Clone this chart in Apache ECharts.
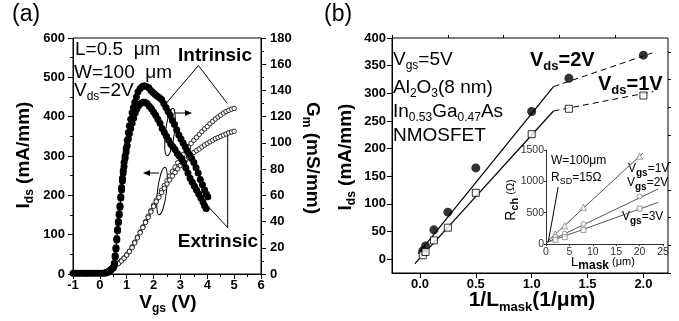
<!DOCTYPE html>
<html>
<head>
<meta charset="utf-8">
<script src="https://cdn.jsdelivr.net/npm/echarts@6/dist/echarts.min.js"></script>
<style>
html, body { margin: 0; padding: 0; background: #fff; }
#chart { width: 679px; height: 321px; }
</style>
</head>
<body>
<div id="chart"></div>
<script>
// ---- panel (a): Ids and Gm vs Vgs ----
const vgs = [-1.0, -0.9, -0.8, -0.7, -0.6, -0.5, -0.4, -0.3, -0.2, -0.1,
    0.0, 0.1, 0.2, 0.3, 0.4, 0.5, 0.6, 0.7, 0.8, 0.9,
    1.0, 1.1, 1.2, 1.3, 1.4, 1.5, 1.6, 1.7, 1.8, 1.9,
    2.0, 2.1, 2.2, 2.3, 2.4, 2.5, 2.6, 2.7, 2.8, 2.9,
    3.0, 3.1, 3.2, 3.3, 3.4, 3.5, 3.6, 3.7, 3.8, 3.9,
    4.0, 4.1, 4.2, 4.3, 4.4, 4.5, 4.6, 4.7, 4.8, 4.9, 5.0];

const idsIntrinsic = [2, 2, 2, 2, 2, 2, 2, 2, 2, 2,
    3, 3, 5, 8, 13, 18, 23, 28, 34, 41,
    49, 58, 69, 81, 94, 107, 120, 133, 147, 161,
    175, 188, 200, 213, 225, 237, 249, 261, 272, 283,
    294, 304, 314, 323, 332, 340, 347, 355, 362, 369,
    375, 382, 388, 394, 399, 404, 409, 413, 416, 419, 421];

const idsExtrinsic = [2, 2, 2, 2, 2, 2, 2, 2, 2, 2,
    3, 3, 5, 8, 12, 17, 22, 27, 33, 40,
    48, 57, 67, 79, 92, 105, 118, 131, 144, 158,
    172, 184, 195, 207, 218, 229, 239, 249, 258, 267,
    276, 283, 290, 297, 303, 309, 314, 318, 323, 328,
    332, 336, 340, 344, 347, 350, 353, 356, 359, 361, 363];

// [Vgs, Gm]
const gmIntrinsic = [[-1, 0.5], [-0.9, 0.5], [-0.8, 0.5], [-0.7, 0.5], [-0.6, 0.5], [-0.5, 0.5],
    [-0.4, 0.5], [-0.3, 0.5], [-0.2, 0.5], [-0.1, 0.5], [0, 0.5], [0.1, 0.5], [0.2, 0.8],
    [0.25, 1], [0.3, 1.5], [0.35, 2], [0.4, 3], [0.45, 4], [0.5, 5], [0.54, 8], [0.57, 14],
    [0.6, 20], [0.63, 27], [0.66, 34], [0.69, 40], [0.72, 46], [0.75, 52], [0.78, 59],
    [0.81, 66], [0.84, 73], [0.87, 79], [0.9, 85], [0.94, 90], [0.98, 96], [1.02, 102],
    [1.06, 108], [1.1, 113], [1.15, 118], [1.2, 123], [1.25, 127], [1.3, 131], [1.36, 135],
    [1.42, 139], [1.5, 141.5], [1.58, 143], [1.66, 143.5], [1.74, 143], [1.82, 142], [1.9, 140],
    [1.98, 138.5], [2.06, 137], [2.14, 135.5], [2.22, 134.5], [2.3, 133], [2.38, 130], [2.46, 127],
    [2.54, 124], [2.62, 121], [2.7, 117], [2.78, 114], [2.86, 110], [2.94, 106], [3.02, 103],
    [3.1, 100], [3.18, 97], [3.26, 94], [3.34, 91], [3.42, 88], [3.5, 85], [3.58, 81],
    [3.66, 77], [3.74, 72], [3.82, 68], [3.9, 64], [3.96, 61], [4.02, 59]];

const gmExtrinsic = [[0.2, 0.8], [0.3, 1.5], [0.4, 3], [0.5, 5], [0.54, 8], [0.57, 13],
    [0.6, 19], [0.63, 26], [0.66, 33], [0.69, 39], [0.72, 45], [0.75, 51], [0.78, 58],
    [0.81, 64], [0.84, 71], [0.87, 77], [0.9, 82], [0.94, 88], [0.98, 93], [1.02, 98],
    [1.06, 103], [1.1, 107], [1.15, 111], [1.2, 115], [1.26, 119], [1.32, 123], [1.38, 126],
    [1.45, 128.5], [1.52, 130], [1.6, 131], [1.68, 131], [1.76, 130], [1.84, 128], [1.92, 126],
    [2.0, 123.5], [2.08, 121], [2.16, 118], [2.24, 115], [2.32, 111], [2.4, 108], [2.48, 105],
    [2.56, 102], [2.64, 99], [2.72, 97], [2.8, 95], [2.88, 92], [2.96, 90], [3.04, 88],
    [3.12, 85], [3.2, 81], [3.28, 77], [3.36, 73], [3.44, 70], [3.52, 67], [3.6, 64],
    [3.68, 61], [3.76, 58], [3.84, 55], [3.9, 52], [3.96, 50]];

// ---- panel (b): Ids vs 1/Lmask ----
const invL = [0.025, 0.05, 0.125, 0.25, 0.5, 1.0, 1.333, 2.0];
const idsVds2 = [15, 24, 53, 85, 165, 267, 327, 369];
const idsVds1 = [7, 13, 34, 57, 120, 226, 272, 296];

const fitVds2Solid = [[-0.015, 10], [1.195, 312]];
const fitVds2Dash = [[1.195, 312], [2.08, 373]];
const fitVds1Solid = [[-0.045, -8], [1.195, 268]];
const fitVds1Dash = [[1.195, 268], [2.09, 303]];

const bTicks = [0, 0.5, 1.0, 1.5, 2.0];
const bMinorTicks = [-0.25, 0.25, 0.75, 1.25, 1.75];
const bYTicks = [0, 50, 100, 150, 200, 250, 300, 350, 400];
const bYMinorTicks = [-25, 25, 75, 125, 175, 225, 275, 325, 375];

// ---- inset: Rch vs Lmask ----
const lMask = [2, 4, 8, 20];
const rchVgs1 = [160, 290, 585, 1400];
const rchVgs2 = [110, 165, 320, 760];
const rchVgs3 = [65, 110, 225, 565];
const fitVgs1 = [[0, 20], [20.7, 1450]];
const fitVgs2 = [[0, 20], [24, 880]];
const fitVgs3 = [[0, 20], [24, 665]];
const rsdPointer = [[0.5, 40], [2.6, 910]];

const FONT = '"Liberation Sans", Arial, sans-serif';
const ctx = document.createElement("canvas").getContext("2d");

function textWidth(t, size, weight) {
    ctx.font = weight + " " + size + "px " + FONT;
    return ctx.measureText(t).width;
}

// parts: [text, size, weight, dy]
function richText(x, y, parts, rotation, anchor, color) {
    const widths = parts.map(p => textWidth(p[0], p[1], p[2]));
    const total = widths.reduce((a, b) => a + b, 0);
    let off = anchor === "center" ? -total / 2 : 0;
    const children = parts.map((p, i) => {
        const el = {
            type: "text",
            x: off,
            y: p[3] || 0,
            style: {
                text: p[0],
                fontSize: p[1],
                fontWeight: p[2],
                fontFamily: FONT,
                fill: color || "#000",
                textAlign: "left",
                textVerticalAlign: "middle",
                align: "left",
                verticalAlign: "middle"
            }
        };
        off += widths[i];
        return el;
    });
    return { type: "group", x: x, y: y, rotation: rotation || 0, silent: true, children: children };
}

function line(x1, y1, x2, y2) {
    return { type: "line", silent: true, shape: { x1, y1, x2, y2 }, style: { stroke: "#000", lineWidth: 1 } };
}

const chart = echarts.init(document.getElementById("chart"), null, { renderer: "canvas" });

const tickLabel = { color: "#000", fontFamily: FONT, fontWeight: "bold", fontSize: 13 };
const blackLine = { show: true, onZero: false, lineStyle: { color: "#000", width: 1 } };
const insetLabel = { color: "#333", fontFamily: FONT, fontSize: 10.5, formatter: v => String(v) };

const graphic = [
    richText(12, 15, [["(a)", 23, "normal", 0]], 0, "left"),
    richText(324, 15, [["(b)", 23, "normal", 0]], 0, "left"),

    // panel (a) annotations
    richText(75, 50, [["L=0.5  \u03bcm", 19, "normal", 0]], 0, "left"),
    richText(74, 73, [["W=100  \u03bcm", 19, "normal", 0]], 0, "left"),
    richText(74, 91, [["V", 19, "normal", 0], ["ds", 12, "normal", 6], ["=2V", 19, "normal", 0]], 0, "left"),
    richText(215, 56, [["Intrinsic", 19, "bold", 0]], 0, "center"),
    richText(218, 242, [["Extrinsic", 19, "bold", 0]], 0, "center"),
    { type: "ellipse", x: 170, y: 132, rotation: -0.12, silent: true,
      shape: { cx: 0, cy: 0, rx: 4.5, ry: 24 }, style: { fill: "none", stroke: "#000", lineWidth: 1 } },
    line(174, 113, 187, 113),
    { type: "polygon", silent: true, shape: { points: [[192, 113], [185, 110], [185, 116]] }, style: { fill: "#000" } },
    { type: "ellipse", x: 162, y: 191, rotation: -0.12, silent: true,
      shape: { cx: 0, cy: 0, rx: 4.5, ry: 24 }, style: { fill: "none", stroke: "#000", lineWidth: 1 } },
    line(159, 173, 148, 173),
    { type: "polygon", silent: true, shape: { points: [[143, 173], [150, 170], [150, 176]] }, style: { fill: "#000" } },

    // panel (a) axis titles
    richText(168, 303, [["V", 19, "bold", 0], ["gs", 12, "bold", 6], [" (V)", 19, "bold", 0]], 0, "center"),
    richText(24, 155, [["I", 19, "bold", 0], ["ds", 12, "bold", 6], [" (mA/mm)", 19, "bold", 0]], Math.PI / 2, "center"),
    richText(312, 158, [["G", 19, "bold", 0], ["m", 12, "bold", 6], [" (mS/mm)", 19, "bold", 0]], -Math.PI / 2, "center"),

    // panel (b) texts
    richText(393, 60, [["V", 19, "normal", 0], ["gs", 12, "normal", 6], ["=5V", 19, "normal", 0]], 0, "left"),
    richText(393, 88, [["Al", 19, "normal", 0], ["2", 12, "normal", 6], ["O", 19, "normal", 0],
        ["3", 12, "normal", 6], ["(8 nm)", 19, "normal", 0]], 0, "left"),
    richText(393, 112, [["In", 19, "normal", 0], ["0.53", 12, "normal", 6], ["Ga", 19, "normal", 0],
        ["0.47", 12, "normal", 6], ["As", 19, "normal", 0]], 0, "left"),
    richText(393, 136, [["NMOSFET", 19, "normal", 0]], 0, "left"),
    richText(530, 60, [["V", 20, "bold", 0], ["ds", 13, "bold", 6], ["=2V", 20, "bold", 0]], 0, "left"),
    richText(598, 84, [["V", 20, "bold", 0], ["ds", 13, "bold", 6], ["=1V", 20, "bold", 0]], 0, "left"),
    richText(346, 157, [["I", 19, "bold", 0], ["ds", 12, "bold", 6], [" (mA/mm)", 19, "bold", 0]], Math.PI / 2, "center"),
    richText(532, 300, [["1/L", 21, "bold", 0], ["mask", 13, "bold", 7], ["(1/\u03bcm)", 21, "bold", 0]], 0, "center"),

    // inset texts
    richText(551, 161, [["W=100\u03bcm", 12, "normal", 0]], 0, "left"),
    richText(551, 178, [["R", 12, "normal", 0], ["SD", 9, "normal", 4], ["=15\u03a9", 12, "normal", 0]], 0, "left"),
    richText(628, 169, [["V", 12, "normal", 0], ["gs", 10, "bold", 4], ["=1V", 12, "normal", 0]], 0, "left"),
    richText(627, 183, [["V", 12, "normal", 0], ["gs", 10, "bold", 4], ["=2V", 12, "normal", 0]], 0, "left"),
    richText(622, 217, [["V", 12, "normal", 0], ["gs", 10, "bold", 4], ["=3V", 12, "normal", 0]], 0, "left"),
    richText(511, 200, [["R", 14, "normal", 0], ["ch", 11, "bold", 4], [" (\u03a9)", 11, "normal", 0]], Math.PI / 2, "center"),
    richText(603, 262, [["L", 13, "normal", 0], ["mask", 12, "bold", 4], [" (\u03bcm)", 11, "normal", 0]], 0, "center")
];

const dashed = { color: "#000", width: 1, type: [6, 4] };

chart.setOption({
    animation: false,
    backgroundColor: "#fff",
    graphic: graphic,
    grid: [
        { left: 73, top: 38, width: 188, height: 236, show: true, borderColor: "#000", borderWidth: 1 },
        { left: 392, top: 38, width: 276, height: 235, show: true, borderColor: "#000", borderWidth: 1 },
        { left: 546, top: 150, width: 117, height: 94 }
    ],
    xAxis: [
        {
            gridIndex: 0, type: "value", min: -1, max: 6, interval: 1,
            axisLine: blackLine,
            axisTick: { show: true, length: 5, lineStyle: { color: "#000" } },
            minorTick: { show: true, splitNumber: 2, length: 3, lineStyle: { color: "#000" } },
            axisLabel: Object.assign({ margin: 5 }, tickLabel),
            splitLine: { show: false }
        },
        {
            gridIndex: 1, type: "value", min: -0.25, max: 2.22,
            axisLine: blackLine,
            axisTick: { show: true, length: 5, customValues: bTicks, lineStyle: { color: "#000" } },
            axisLabel: Object.assign({ margin: 5, customValues: bTicks, formatter: v => v.toFixed(1) }, tickLabel),
            splitLine: { show: false }
        },
        {
            gridIndex: 1, type: "value", min: -0.25, max: 2.22,
            axisLine: { show: false, onZero: false },
            axisTick: { show: true, length: 3, customValues: bMinorTicks, lineStyle: { color: "#000" } },
            axisLabel: { show: false },
            splitLine: { show: false }
        },
        {
            gridIndex: 2, type: "value", min: 0, max: 25, interval: 5,
            axisLine: { show: true, onZero: false, lineStyle: { color: "#333", width: 1 } },
            axisTick: { show: true, length: 2, lineStyle: { color: "#333" } },
            axisLabel: Object.assign({ margin: 3 }, insetLabel),
            splitLine: { show: false }
        }
    ],
    yAxis: [
        {
            gridIndex: 0, type: "value", min: 0, max: 600, interval: 100,
            axisLine: blackLine,
            axisTick: { show: true, length: 5, lineStyle: { color: "#000" } },
            minorTick: { show: true, splitNumber: 2, length: 3, lineStyle: { color: "#000" } },
            axisLabel: Object.assign({ margin: 8 }, tickLabel),
            splitLine: { show: false }
        },
        {
            gridIndex: 0, type: "value", position: "right", min: 0, max: 180, interval: 20,
            axisLine: blackLine,
            axisTick: { show: true, length: 5, lineStyle: { color: "#000" } },
            minorTick: { show: true, splitNumber: 2, length: 3, lineStyle: { color: "#000" } },
            axisLabel: Object.assign({ margin: 9 }, tickLabel),
            splitLine: { show: false }
        },
        {
            gridIndex: 1, type: "value", min: -25, max: 400,
            axisLine: blackLine,
            axisTick: { show: true, length: 5, customValues: bYTicks, lineStyle: { color: "#000" } },
            axisLabel: Object.assign({ margin: 6, customValues: bYTicks }, tickLabel),
            splitLine: { show: false }
        },
        {
            gridIndex: 1, type: "value", min: -25, max: 400,
            axisLine: { show: false, onZero: false },
            axisTick: { show: true, length: 3, customValues: bYMinorTicks, lineStyle: { color: "#000" } },
            axisLabel: { show: false },
            splitLine: { show: false }
        },
        {
            gridIndex: 2, type: "value", min: 0, max: 1500, interval: 500,
            axisLine: { show: true, onZero: false, lineStyle: { color: "#333", width: 1 } },
            axisTick: { show: true, length: 2, lineStyle: { color: "#333" } },
            axisLabel: Object.assign({ margin: 2 }, insetLabel),
            splitLine: { show: false }
        }
    ],
    series: [
        // panel (a) Ids (open circles)
        {
            type: "line", xAxisIndex: 0, yAxisIndex: 0,
            data: vgs.map((v, i) => [v, idsIntrinsic[i]]),
            symbol: "circle", symbolSize: 4.5, showAllSymbol: true,
            itemStyle: { color: "#fff", borderColor: "#000", borderWidth: 0.8 },
            lineStyle: { color: "#000", width: 0.6 }
        },
        {
            type: "line", xAxisIndex: 0, yAxisIndex: 0,
            data: vgs.map((v, i) => [v, idsExtrinsic[i]]),
            symbol: "circle", symbolSize: 4.5, showAllSymbol: true,
            itemStyle: { color: "#fff", borderColor: "#000", borderWidth: 0.8 },
            lineStyle: { color: "#000", width: 0.6 }
        },
        // panel (a) Gm (filled circles)
        {
            type: "line", xAxisIndex: 0, yAxisIndex: 1, data: gmIntrinsic,
            symbol: "circle", symbolSize: 7, showAllSymbol: true,
            itemStyle: { color: "#000" }, lineStyle: { color: "#000", width: 1 }
        },
        {
            type: "line", xAxisIndex: 0, yAxisIndex: 1, data: gmExtrinsic,
            symbol: "circle", symbolSize: 7, showAllSymbol: true,
            itemStyle: { color: "#000" }, lineStyle: { color: "#000", width: 1 }
        },
        // pointer lines for Intrinsic / Extrinsic
        {
            type: "line", xAxisIndex: 0, yAxisIndex: 0, symbol: "none",
            data: [[2.47, 434], [3.67, 530], [4.74, 434]], lineStyle: { color: "#000", width: 1 }
        },
        {
            type: "line", xAxisIndex: 0, yAxisIndex: 0, symbol: "none",
            data: [[4.76, 361], [4.76, 118]], lineStyle: { color: "#000", width: 1 }
        },
        {
            type: "line", xAxisIndex: 0, yAxisIndex: 0, symbol: "none",
            data: [[3.92, 180], [4.76, 118]], lineStyle: { color: "#000", width: 1 }
        },

        // panel (b) fits
        { type: "line", xAxisIndex: 1, yAxisIndex: 2, symbol: "none", data: fitVds2Solid, lineStyle: { color: "#000", width: 1.2 } },
        { type: "line", xAxisIndex: 1, yAxisIndex: 2, symbol: "none", data: fitVds2Dash, lineStyle: dashed },
        { type: "line", xAxisIndex: 1, yAxisIndex: 2, symbol: "none", data: fitVds1Solid, lineStyle: { color: "#000", width: 1.2 } },
        { type: "line", xAxisIndex: 1, yAxisIndex: 2, symbol: "none", data: fitVds1Dash, lineStyle: dashed },
        // panel (b) points
        {
            type: "scatter", xAxisIndex: 1, yAxisIndex: 2,
            data: invL.map((x, i) => [x, idsVds2[i]]),
            symbol: "circle", symbolSize: 9, itemStyle: { color: "#000" }, z: 5
        },
        {
            type: "scatter", xAxisIndex: 1, yAxisIndex: 2,
            data: invL.map((x, i) => [x, idsVds1[i]]),
            symbol: "rect", symbolSize: 7,
            itemStyle: { color: "#fff", borderColor: "#000", borderWidth: 1 }, z: 5
        },

        // inset fits
        { type: "line", xAxisIndex: 3, yAxisIndex: 4, symbol: "none", data: fitVgs1, lineStyle: { color: "#555", width: 1 } },
        { type: "line", xAxisIndex: 3, yAxisIndex: 4, symbol: "none", data: fitVgs2, lineStyle: { color: "#555", width: 1 } },
        { type: "line", xAxisIndex: 3, yAxisIndex: 4, symbol: "none", data: fitVgs3, lineStyle: { color: "#555", width: 1 } },
        { type: "line", xAxisIndex: 3, yAxisIndex: 4, symbol: "none", data: rsdPointer, lineStyle: { color: "#000", width: 1 } },
        // inset points
        {
            type: "scatter", xAxisIndex: 3, yAxisIndex: 4,
            data: lMask.map((x, i) => [x, rchVgs1[i]]),
            symbol: "triangle", symbolSize: 6,
            itemStyle: { color: "#fff", borderColor: "#666", borderWidth: 0.8 }, z: 5
        },
        {
            type: "scatter", xAxisIndex: 3, yAxisIndex: 4,
            data: lMask.map((x, i) => [x, rchVgs2[i]]),
            symbol: "circle", symbolSize: 5,
            itemStyle: { color: "#fff", borderColor: "#666", borderWidth: 0.8 }, z: 5
        },
        {
            type: "scatter", xAxisIndex: 3, yAxisIndex: 4,
            data: lMask.map((x, i) => [x, rchVgs3[i]]),
            symbol: "rect", symbolSize: 5,
            itemStyle: { color: "#fff", borderColor: "#666", borderWidth: 0.8 }, z: 5
        }
    ]
});
</script>
</body>
</html>
